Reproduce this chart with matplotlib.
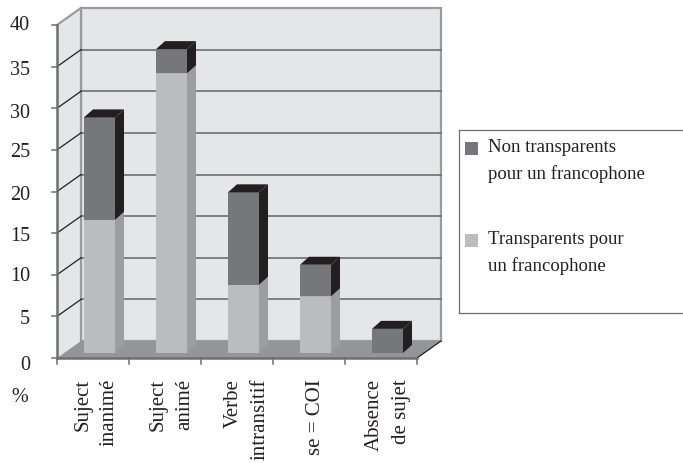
import matplotlib
matplotlib.use("Agg")
import matplotlib.pyplot as plt
from matplotlib.patches import Polygon, Rectangle

categories = ["Suject\ninanimé", "Suject\nanimé", "Verbe\nintransitif", "se = COI", "Absence\nde sujet"]
transparents = [16.0, 33.6, 8.2, 6.8, 0.0]
non_transparents = [12.3, 2.9, 11.1, 3.8, 2.9]
y_ticks = [0, 5, 10, 15, 20, 25, 30, 35, 40]
legend_labels = ["Non transparents\npour un francophone", "Transparents pour\nun francophone"]

C_WALL = "#e5e6e8"
C_FLOOR = "#939598"
C_AXIS = "#6d6e71"
C_BACK = "#9a9b9e"
C_GRID = "#636466"
C_LIGHT = "#bbbcc0"
C_LIGHT_SIDE = "#9c9da1"
C_DARK = "#76777b"
C_DARK_SIDE = "#231f20"
C_TEXT = "#231f20"

W, H = 683, 463
PX_X = 72.0  # pixels per category
PX_Y = 8.325  # pixels per percent
X0, Y0 = 57, 105  # origin of the front axis, pixels from bottom left
DX = 24 / PX_X  # depth of the box
DY = 17 / PX_Y
BAR_W = 31 / PX_X
BAR_DX = 9 / PX_X
BAR_DY = 8 / PX_Y
BAR_BASE = 5 / PX_Y  # bars stand slightly behind the front edge
LABEL_SHIFT = [3, 6, 10, 6, 7]  # sideways nudge of the category labels, pixels
TICK_SHIFT = [7, 3, 2, 3, 4, 3, 5, 4, 1]  # downward nudge of the axis numbers, pixels

plt.rcParams["font.family"] = ["Liberation Serif", "DejaVu Serif"]

fig = plt.figure(figsize=(W / 100, H / 100), dpi=100)
ax = fig.add_axes([0, 0, 1, 1])
ax.set_xlim(-X0 / PX_X, (W - X0) / PX_X)
ax.set_ylim(-Y0 / PX_Y, (H - Y0) / PX_Y)
ax.axis("off")

top = y_ticks[-1]
n = len(categories)

# walls and floor
ax.add_patch(Polygon([(DX, DY), (n + DX, DY), (n + DX, top + DY), (DX, top + DY)],
                     fc=C_WALL, ec=C_BACK, lw=1.6, zorder=1))
ax.add_patch(Polygon([(0, 0), (DX, DY), (DX, top + DY), (0, top)], fc=C_WALL, ec="none", zorder=1))
ax.plot([0, DX], [top, top + DY], color=C_BACK, lw=1.6, zorder=2)
ax.plot([DX, DX], [0 + DY, top + DY], color=C_BACK, lw=1.6, zorder=2)

# grid lines along both walls
for v in y_ticks[1:-1]:
    ax.plot([DX, n + DX], [v + DY, v + DY], color=C_GRID, lw=1.1, zorder=2)
    ax.plot([0, DX], [v, v + DY], color=C_TEXT, lw=0.9, zorder=2)

ax.add_patch(Polygon([(0, 0), (n, 0), (n + DX, DY), (DX, DY)], fc=C_FLOOR, ec="none", zorder=3))
ax.plot([n, n + DX], [0, DY], color=C_TEXT, lw=0.9, zorder=3)

# front axes and ticks
ax.plot([0, 0], [0, top], color=C_AXIS, lw=1.8, zorder=4)
ax.plot([0, n], [0, 0], color=C_AXIS, lw=1.8, zorder=4)
for v, shift in zip(y_ticks, TICK_SHIFT):
    ax.plot([-5 / PX_X, 0], [v, v], color=C_AXIS, lw=1.1, zorder=4)
    ax.text(-27 / PX_X, v - shift / PX_Y, str(v), ha="right", va="center",
            fontsize=14.5, color=C_TEXT)
for i in range(n + 1):
    ax.plot([i, i], [0, -6 / PX_Y], color=C_AXIS, lw=1.1, zorder=4)
ax.text(-37 / PX_X, -40 / PX_Y, "%", ha="center", va="center", fontsize=14.5, color=C_TEXT)


def draw_segment(x, y0, y1, front, side, side_top, z):
    ax.add_patch(Rectangle((x, y0), BAR_W, y1 - y0, fc=front, ec="none", zorder=z))
    ax.add_patch(Polygon([(x + BAR_W, y0), (x + BAR_W + BAR_DX, y0 + BAR_DY),
                          (x + BAR_W + BAR_DX, y1 + BAR_DY), (x + BAR_W, y1)],
                         fc=side, ec="none", zorder=z))
    ax.add_patch(Polygon([(x, y1), (x + BAR_W, y1), (x + BAR_W + BAR_DX, y1 + BAR_DY),
                          (x + BAR_DX, y1 + BAR_DY)], fc=side_top, ec="none", zorder=z))


for i, (lo, hi) in enumerate(zip(transparents, non_transparents)):
    x = i + 27 / PX_X
    if lo > 0:
        draw_segment(x, BAR_BASE, BAR_BASE + lo, C_LIGHT, C_LIGHT_SIDE, C_LIGHT_SIDE, 5)
    draw_segment(x, BAR_BASE + lo, BAR_BASE + lo + hi, C_DARK, C_DARK_SIDE, C_DARK_SIDE, 6)

# category labels, rotated and flush at their upper end
for i, label in enumerate(categories):
    ax.text(i + 0.5 + LABEL_SHIFT[i] / PX_X, -21 / PX_Y, label, rotation=90, ha="center", va="top",
            fontsize=15, color=C_TEXT, linespacing=1.55, multialignment="right")

# legend box, open on the right side
for xs, ys in [((459, W), (313, 313)), ((459, W), (130, 130)), ((459, 459), (130, 313))]:
    ax.plot([(x - X0) / PX_X for x in xs], [(H - y - Y0) / PX_Y for y in ys], color=C_AXIS, lw=0.9, zorder=7)
for y_px, color, label in zip([148, 240], [C_DARK, C_LIGHT], legend_labels):
    ax.add_patch(Rectangle(((465 - X0) / PX_X, (H - y_px - 7 - Y0) / PX_Y), 13 / PX_X, 13 / PX_Y,
                           fc=color, ec="none", zorder=7))
    ax.text((488 - X0) / PX_X, (H - y_px + 8.5 - Y0) / PX_Y, label, ha="left", va="top",
            fontsize=13.5, color=C_TEXT, linespacing=1.6)

fig.savefig("out.png", dpi=100)
